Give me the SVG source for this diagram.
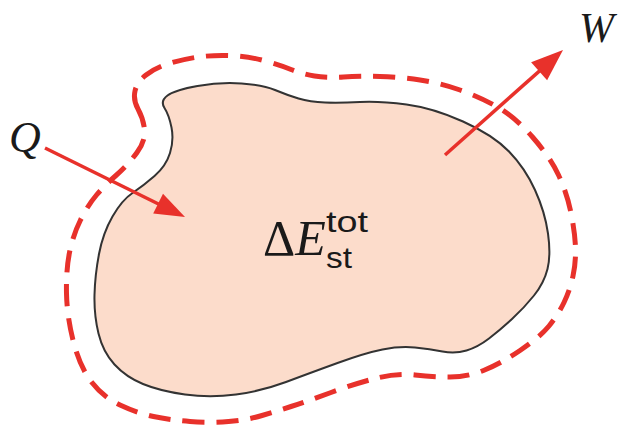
<svg xmlns="http://www.w3.org/2000/svg" width="618" height="429" viewBox="0 0 618 429">
  <style>
    .blob { fill: #fcdccb; stroke: #333333; stroke-width: 2; }
    .boundary { fill: none; stroke: #e8312b; stroke-width: 5; stroke-dasharray: 22 12; }
    .arrow { stroke: #e8312b; stroke-width: 3.5; fill: none; }
    .head { fill: #e8312b; }
    .var { font-family: "Liberation Serif", "Times New Roman", serif; font-style: italic; fill: #1a1a1a; }
    .sans { font-family: "Liberation Sans", Arial, sans-serif; fill: #1a1a1a; }
  </style>
  <rect width="618" height="429" fill="#ffffff"/>
  <g id="system">
    <path class="blob" d="M164.5,108 Q160,101 167.5,95.5 Q175,90 197.5,86 Q220,82 241.5,83.5 Q263,85 275,90 Q287,95 298.5,98.5 Q310,102 325,102.5 Q340,103 360,102 Q380,101 406.5,104.5 Q433,108 463,121.5 Q493,135 509,151.5 Q525,168 535,190 Q545,212 548,233.5 Q551,255 547.5,269 Q544,283 534,295.5 Q524,308 512,319 Q500,330 489,338.5 Q478,347 466.5,350.5 Q455,354 442.5,351.5 Q430,349 415,347.5 Q400,346 382.5,349.5 Q365,353 337.5,363 Q310,373 286,382 Q262,391 236,394.5 Q210,398 185,394.5 Q160,391 143,384 Q126,377 114.5,364.5 Q103,352 98.5,333.5 Q94,315 94.5,295 Q95,275 99,254 Q103,233 112.5,216.5 Q122,200 132.5,193 Q143,186 154.5,176 Q166,166 170,153 Q174,140 171.5,127.5 Q169,115 164.5,108 Z"/>
    <text x="263" y="255" font-size="50" class="var"><tspan font-style="normal">Δ</tspan>E</text>
    <text x="326" y="232" font-size="30" class="sans" textLength="42" lengthAdjust="spacingAndGlyphs">tot</text>
    <text x="326" y="268" font-size="30" class="sans" textLength="26" lengthAdjust="spacingAndGlyphs">st</text>
  </g>
  <g id="boundary">
    <path class="boundary" d="M138,109 Q133,100 135,91 Q137,82 146,75 Q155,68 167.5,64 Q180,60 195,57.5 Q210,55 228.5,55.5 Q247,56 263.5,60.5 Q280,65 291,69.5 Q302,74 314.5,76 Q327,78 343.5,77 Q360,76 380,76.5 Q400,77 420,80 Q440,83 460,90 Q480,97 497.5,107 Q515,117 532.5,137 Q550,157 558.5,175 Q567,193 571,213 Q575,233 575.5,247.5 Q576,262 573,276 Q570,290 564,302.5 Q558,315 549,326 Q540,337 520,350.5 Q500,364 483.5,370.5 Q467,377 450,377 Q433,377 415,375 Q397,373 377,378 Q357,383 331,392.5 Q305,402 291,406.5 Q277,411 262,415.5 Q247,420 228.5,421.5 Q210,423 190,421.5 Q170,420 153.5,416.5 Q137,413 120,405 Q103,397 91.5,382 Q80,367 73.5,342 Q67,317 66.5,293.5 Q66,270 69.5,252.5 Q73,235 80.5,220 Q88,205 96.5,195 Q105,185 116.5,175 Q128,165 137,152.5 Q146,140 144.5,129 Q143,118 138,109 Z"/>
  </g>
  <g id="connectors">
    <g id="heat-in">
      <line class="arrow" x1="45" y1="148" x2="160" y2="204.7"/>
      <polygon class="head" points="185,217 153.2,213.6 163,193.8"/>
    </g>
    <g id="work-out">
      <line class="arrow" x1="445" y1="155" x2="541" y2="69.6"/>
      <polygon class="head" points="563,50 547.1,80.3 531.1,62.3"/>
    </g>
  </g>
  <g id="label-Q">
    <text x="9" y="152" font-size="44" class="var">Q</text>
  </g>
  <g id="label-W">
    <text x="579" y="42" font-size="42" class="var">W</text>
  </g>
</svg>
